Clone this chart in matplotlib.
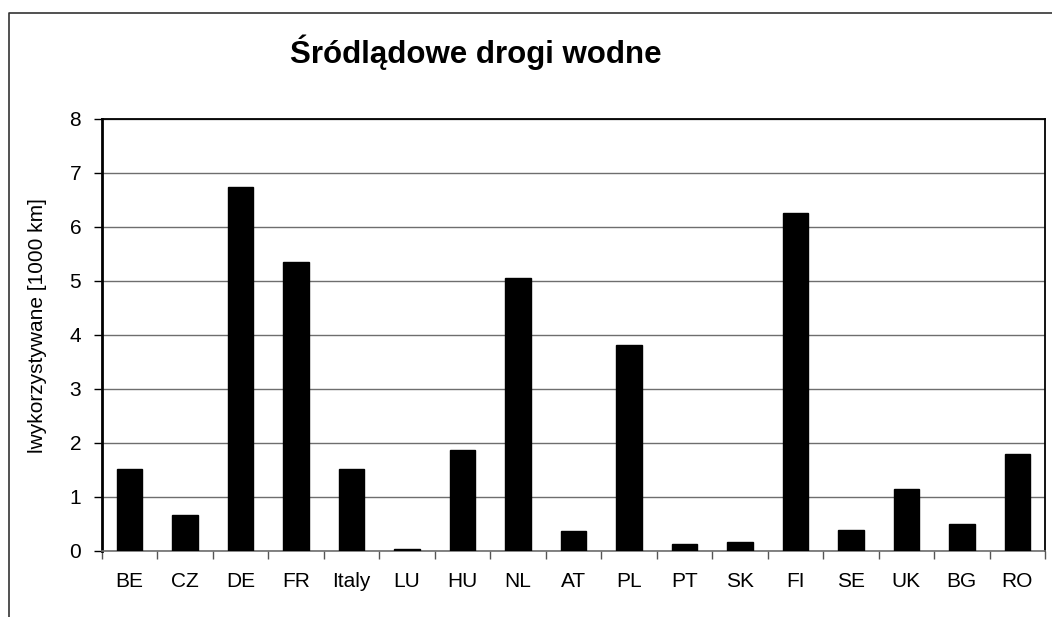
"""
Inland waterways chart (Śródlądowe drogi wodne) - bar chart per country.
"""

import matplotlib
matplotlib.use("Agg")
import matplotlib.pyplot as plt
from matplotlib.lines import Line2D

plt.rcParams['font.family'] = ['Liberation Sans', 'DejaVu Sans']

countries = ['BE', 'CZ', 'DE', 'FR', 'Italy', 'LU', 'HU', 'NL', 'AT',
             'PL', 'PT', 'SK', 'FI', 'SE', 'UK', 'BG', 'RO']
lengths = [1.52, 0.67, 6.74, 5.36, 1.52, 0.04, 1.87, 5.05, 0.37,
           3.82, 0.13, 0.17, 6.26, 0.38, 1.14, 0.50, 1.79]
y_ticks = [0, 1, 2, 3, 4, 5, 6, 7, 8]

W, H = 1052, 617
fig = plt.figure(figsize=(W / 100, H / 100), dpi=100)
ax = fig.add_axes([102 / W, 1 - 551 / H, (1045 - 102) / W, (551 - 119) / H])

x = range(len(countries))
ax.bar(x, lengths, width=0.46, color='black', edgecolor='black', zorder=3)

ax.set_xlim(-0.5, len(countries) - 0.5)
ax.set_ylim(0, 8)
ax.set_yticks(y_ticks)
ax.set_yticklabels([str(v) for v in y_ticks], fontsize=15)
ax.set_xticks(list(x))
ax.set_xticklabels(countries, fontsize=15)
ax.tick_params(axis='x', length=0, pad=15)
ax.tick_params(axis='y', length=6, width=1, direction='out', pad=9)

# category boundary ticks
ax.set_xticks([i - 0.5 for i in range(len(countries) + 1)], minor=True)
ax.tick_params(axis='x', which='minor', length=6, width=1, direction='out', color='#555555')

ax.grid(axis='y', color='#6e6e6e', linewidth=1, zorder=0)
for side in ['left', 'right', 'top']:
    ax.spines[side].set_color('black')
    ax.spines[side].set_linewidth(1.3)
ax.spines['left'].set_linewidth(2)
ax.spines['bottom'].set_color('#6e6e6e')
ax.spines['bottom'].set_linewidth(1.2)

ax.set_ylabel('lwykorzystywane [1000 km]', fontsize=15)
ax.yaxis.set_label_coords(-0.058, 0.523)

fig.text(476 / W, 1 - 52 / H, 'Śródlądowe drogi wodne', fontsize=22.5,
         fontweight='bold', ha='center', va='center')

# outer chart frame (cropped at right and bottom)
fig.add_artist(Line2D([9.5 / W, 9.5 / W, 1.0], [0.0, 1 - 12.5 / H, 1 - 12.5 / H],
                      transform=fig.transFigure, color='#333333', linewidth=1.2))

plt.savefig('out.png', dpi=100)
plt.close()
